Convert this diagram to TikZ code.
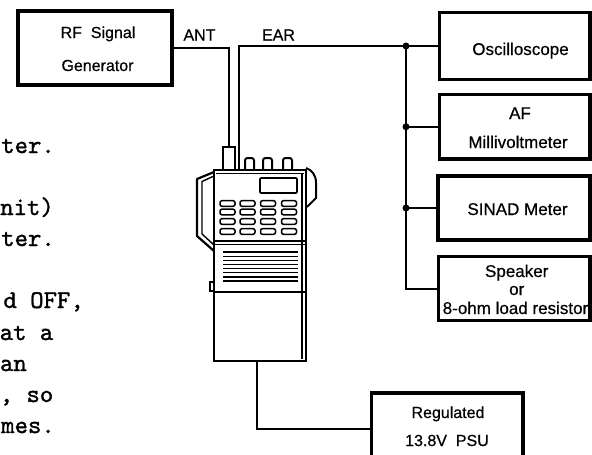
\documentclass[tikz,border=0pt]{standalone}
\usepackage{fontspec}
\setmainfont[FakeBold=0.5]{Liberation Sans}
\setmonofont[FakeBold=1.2]{lmmono10-regular.otf}
\begin{document}
\begin{tikzpicture}[x=1pt,y=-1pt,
  boxn/.style={draw, line width=3.5pt, inner sep=0pt, outer sep=0pt},
  lbl/.style={inner sep=0pt, anchor=base, font=\fontsize{16}{19}\selectfont},
  lblr/.style={inner sep=0pt, anchor=base, font=\fontsize{17}{20}\selectfont},
  wire/.style={line width=2pt},
  tw/.style={inner sep=0pt, anchor=base east, font=\ttfamily\fontsize{25.5}{30}\selectfont},
  rl/.style={line width=2.5pt},
  rthin/.style={line width=1.4pt},
  keyb/.style={line width=1.5pt, rounded corners=2pt},
  dot/.style={circle, fill, inner sep=0pt, minimum size=7pt}]
\useasboundingbox (0,0) rectangle (592,455);
\clip (0,0) rectangle (592,455);
\fill[white] (0,0) rectangle (592,455);

% boxes
\node[boxn, minimum width=154pt, minimum height=74pt] (rf) at (95,48) {};
\node[boxn, minimum width=150.5pt, minimum height=67pt] (osc) at (514.75,46) {};
\node[boxn, minimum width=150.5pt, minimum height=64.5pt] (af) at (514.75,126.75) {};
\node[boxn, minimum width=152pt, minimum height=64pt] (sinad) at (514,208) {};
\node[boxn, minimum width=151.5pt, minimum height=64pt] (spk) at (514.25,288.5) {};
\node[boxn, minimum width=151.5pt, minimum height=77pt] (psu) at (447.25,431.5) {};

% box texts
\node[lbl] (rft1) at (98,38) {RF\ \ Signal};
\node[lbl] (rft2) at (97.5,71) {Generator};
\node[lbl] (antl) at (199.5,40.5) {ANT};
\node[lbl] (earl) at (278.5,40.5) {EAR};
\node[lblr] (osct) at (520.5,55) {Oscilloscope};
\node[lblr] (aft1) at (520,119) {AF};
\node[lblr] (aft2) at (518,148) {Millivoltmeter};
\node[lblr] (sinadt) at (517.5,215) {SINAD\ Meter};
\node[lblr] (spkt1) at (516.7,277) {Speaker};
\node[lblr] (spkt2) at (516.7,295) {or};
\node[lblr] (spkt3) at (515.5,314) {8-ohm load resistor};
\node[lbl] (psut1) at (448,418) {Regulated};
\node[lbl] (psut2) at (447,446) {13.8V\ \ PSU};

% typewriter text (cut off at the left edge)
\node[tw] (tw1) at (55,153) {ter.};
\node[tw] (tw2) at (54,215) {nit)};
\node[tw] (tw3) at (55,246) {ter.};
\node[tw] (tw4) at (84,308) {d OFF,};
\node[tw] (tw5) at (53.5,340) {at a};
\node[tw] (tw6) at (27,371) {an};
\node[tw] (tw7) at (53.5,402) {, so};
\node[tw] (tw8) at (55,433) {mes.};

% radio
\node[draw, rl, inner sep=0pt, minimum width=12pt, minimum height=23pt] (antenna) at (229,158.5) {};
\node[draw, rl, inner sep=0pt, minimum width=92pt, minimum height=191pt] (body) at (260,265.5) {};
\coordinate (earpt) at (239,170);
\coordinate (pwr) at (257,361);
% knobs
\foreach \a/\b in {245/254, 263/272, 283/292}
  \draw[line width=2pt, rounded corners=2.5pt] (\a,170) -- (\a,158) -- (\b,158) -- (\b,170);
% inner lines
\draw[rthin] (216,173.5) -- (304,173.5);
\draw[rthin] (302,174) -- (302,359);
% side clip
\draw[line width=2.2pt, line join=round] (214,172) -- (197,179) -- (197,236) -- (214,251);
\draw[rthin] (214,176) -- (202,181.5) -- (202,234) -- (214,245);
% right protrusion
\draw[line width=2pt] (306,168) .. controls (312,170) and (316,175) .. (316,183) -- (316,198) -- (307,207);
% display
\draw[line width=1.6pt, rounded corners=1pt] (260,178) rectangle (297,193);
% keys
\foreach \cx in {227.5, 247.5, 268, 289}
  \foreach \cy in {203.5, 212, 221.5, 231.5}
    \draw[keyb] (\cx-7.5,\cy-2.8) rectangle (\cx+7.5,\cy+2.8);
% dividers
\draw[line width=2pt] (214,241) -- (306,241);
\draw[line width=0.8pt] (214,244) -- (306,244);
\draw[line width=2pt] (214,292) -- (306,292);
% grille
\foreach \i in {0,...,7}
  \draw[line width=1.3pt] (223,252+\i*4.15) -- (298,252+\i*4.15);
% side tab
\draw[line width=1.6pt] (214,282) -- (210,282) -- (210,291) -- (214,291);

% connectors
\draw[wire] (rf.east) -| (antenna.north);
\draw[wire] (earpt) |- (osc.west);
\node[dot] (j1) at (406,46) {};
\node[dot] (j2) at (af.west -| j1) {};
\node[dot] (j3) at (sinad.west -| j1) {};
\draw[wire] (j1.center) |- (spk.west);
\draw[wire] (j2.center) -- (af.west);
\draw[wire] (j3.center) -- (sinad.west);
\draw[wire] (pwr) |- ([yshift=3pt]psu.west);
\end{tikzpicture}
\end{document}
